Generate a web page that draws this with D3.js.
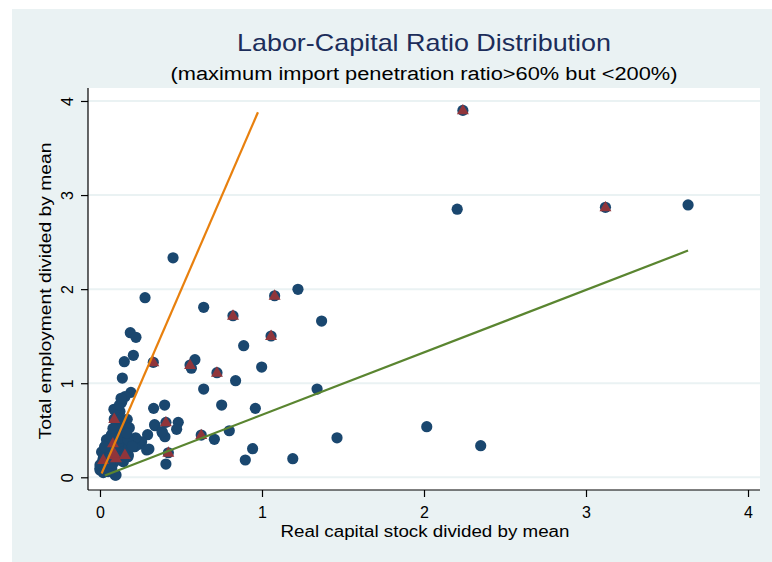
<!DOCTYPE html>
<html>
<head>
<meta charset="utf-8">
<script src="https://cdn.jsdelivr.net/npm/d3@7"></script>
<style>
  body { margin: 0; background: #ffffff; }
  #box { width: 772px; height: 562px; }
  text { font-family: "Liberation Sans", Arial, sans-serif; }
</style>
</head>
<body>
<div id="box"></div>
<script>
// all firms (navy circles)
const capital = [
  2.24, 2.205, 3.12, 3.63, 1.463, 2.017, 2.35,
  0.451, 0.278, 0.64, 0.821, 1.078, 1.222, 1.368, 0.187, 0.222, 1.056, 0.887,
  0.206, 0.15, 0.329, 0.586, 0.556, 0.564, 0.722, 0.998, 0.138, 0.837, 0.64,
  1.34, 0.191, 0.154, 0.134, 0.086, 0.123, 0.331, 0.399, 0.751, 0.959, 0.088,
  0.168, 0.181, 0.144, 0.175, 0.407, 0.34, 0.337, 0.385, 0.401, 0.383, 0.483,
  0.473, 0.294, 0.625, 0.706, 0.798, 0.897, 0.942, 1.19, 0.407, 0.422, 0.257,
  0.239, 0.288, 0.302, 0.195, 0.179, 0.193, 0.214, 0.175, 0.173, 0.15, 0.142,
  0.111, 0.121, 0.08, 0.088, 0.09, 0.099, 0.154, 0.02, 0.019, 0.099, 0.0,
  0.031, 0.041, 0.02, 0.01, 0.0, 0.062, 0.072, 0.082, 0.072, 0.093, 0.103,
  0.123, 0.144, 0.123, 0.134, 0.154, 0.04, 0.01, 0.0, 0.03, 0.05, 0.06,
  0.04, 0.02, 0.05, 0.06, 0.11, 0.12, 0.13, 0.10, 0.13, 0.22, 0.062, 0.093,
  0.029, 0.07, 0.08, 0.12, 0.13, 0.173, 0.165, 0.2
];
const employment = [
  3.90, 2.85, 2.87, 2.895, 0.42, 0.538, 0.336,
  2.333, 1.909, 1.807, 1.717, 1.93, 1.998, 1.661, 1.537, 1.488, 1.502, 1.399,
  1.297, 1.229, 1.222, 1.25, 1.193, 1.16, 1.112, 1.172, 1.055, 1.027, 0.938,
  0.938, 0.903, 0.857, 0.797, 0.723, 0.70, 0.733, 0.768, 0.768, 0.733, 0.62,
  0.616, 0.527, 0.556, 0.52, 0.584, 0.548, 0.559, 0.474, 0.431, 0.485, 0.584,
  0.51, 0.453, 0.449, 0.404, 0.495, 0.184, 0.304, 0.198, 0.141, 0.261, 0.378,
  0.35, 0.29, 0.30, 0.378, 0.41, 0.361, 0.325, 0.237, 0.219, 0.234, 0.468,
  0.485, 0.45, 0.361, 0.255, 0.237, 0.202, 0.237, 0.184, 0.166, 0.024, 0.078,
  0.325, 0.272, 0.202, 0.149, 0.096, 0.378, 0.325, 0.149, 0.096, 0.024, 0.237,
  0.184, 0.166, 0.29, 0.255, 0.308, 0.40, 0.27, 0.13, 0.22, 0.30, 0.20,
  0.12, 0.05, 0.06, 0.15, 0.33, 0.38, 0.42, 0.55, 0.62, 0.42, 0.416, 0.715,
  0.325, 0.45, 0.52, 0.77, 0.84, 0.40, 0.47, 0.33
];

// highlighted subset (maroon triangles)
const triCapital = [2.24, 3.12, 0.821, 1.078, 1.056, 0.329, 0.556, 0.722, 0.088,
  0.407, 0.625, 0.422, 0.08, 0.09, 0.099, 0.154, 0.02, 0.088];
const triEmployment = [3.90, 2.87, 1.717, 1.93, 1.502, 1.222, 1.193, 1.112, 0.62,
  0.584, 0.449, 0.261, 0.361, 0.237, 0.202, 0.237, 0.184, 0.255];

// reference lines
const orangeX = [0.01, 0.975];
const orangeY = [0.04, 3.88];
const greenX = [0.03, 3.63];
const greenY = [0.02, 2.41];

const xTicks = [0, 1, 2, 3, 4];
const yTicks = [0, 1, 2, 3, 4];

const titleText = 'Labor-Capital Ratio Distribution';
const subtitleText = '(maximum import penetration ratio>60% but <200%)';
const xLabel = 'Real capital stock divided by mean';
const yLabel = 'Total employment divided by mean';

const width = 772;
const height = 562;
const plotLeft = 88, plotRight = 760, plotTop = 88, plotBottom = 490;

const navy = '#1a476f';
const maroon = '#90353b';
const bg = '#eaf2f3';

const svg = d3.select('#box').append('svg')
  .attr('width', width)
  .attr('height', height);

svg.append('rect')
  .attr('x', 12).attr('y', 9)
  .attr('width', width - 12).attr('height', height - 9)
  .style('fill', bg);

svg.append('rect')
  .attr('x', plotLeft).attr('y', plotTop)
  .attr('width', plotRight - plotLeft).attr('height', plotBottom - plotTop)
  .style('fill', '#ffffff');

const x = d3.scaleLinear().domain([-0.074, 4.074]).range([plotLeft, plotRight]);
const y = d3.scaleLinear().domain([-0.135, 4.138]).range([plotBottom, plotTop]);

// gridlines
svg.selectAll('.grid').data(yTicks)
  .join('line')
    .attr('class', 'grid')
    .attr('x1', plotLeft).attr('x2', plotRight)
    .attr('y1', d => y(d)).attr('y2', d => y(d))
    .style('stroke', bg)
    .style('stroke-width', 2);

// points
const points = capital.map((c, i) => ({ x: c, y: employment[i] }));
const tris = triCapital.map((c, i) => ({ x: c, y: triEmployment[i] }));

svg.selectAll('.dot').data(points)
  .join('circle')
    .attr('class', 'dot')
    .attr('cx', d => x(d.x))
    .attr('cy', d => y(d.y))
    .attr('r', 5.6)
    .style('fill', navy);

const tri = d3.symbol().type(d3.symbolTriangle).size(62);
svg.selectAll('.tri').data(tris)
  .join('path')
    .attr('class', 'tri')
    .attr('d', tri)
    .attr('transform', d => `translate(${x(d.x)},${y(d.y) + 0.5})`)
    .style('fill', maroon);

// fit lines
const line = d3.line().x(d => x(d[0])).y(d => y(d[1]));
svg.append('path')
  .attr('d', line(orangeX.map((v, i) => [v, orangeY[i]])))
  .style('fill', 'none')
  .style('stroke', '#e8800e')
  .style('stroke-width', 2.2);
svg.append('path')
  .attr('d', line(greenX.map((v, i) => [v, greenY[i]])))
  .style('fill', 'none')
  .style('stroke', '#5a8530')
  .style('stroke-width', 2.2);

// axes
const xAxis = svg.append('g')
  .attr('transform', `translate(0,${plotBottom})`)
  .call(d3.axisBottom(x).tickValues(xTicks).tickFormat(d3.format('d')).tickSize(7).tickSizeOuter(0).tickPadding(10));
const yAxis = svg.append('g')
  .attr('transform', `translate(${plotLeft},0)`)
  .call(d3.axisLeft(y).tickValues(yTicks).tickFormat(d3.format('d')).tickSize(7).tickSizeOuter(0));

[xAxis, yAxis].forEach(a => {
  a.select('.domain').style('stroke', '#000').style('stroke-width', 1.2);
  a.selectAll('.tick line').style('stroke', '#000').style('stroke-width', 1.2);
  a.selectAll('text')
    .style('font-size', '16px')
    .style('fill', '#000')
    .style('font-family', '"Liberation Sans", Arial, sans-serif');
});
xAxis.select('.domain').attr('d', `M${plotLeft},0H${plotRight}`);
yAxis.select('.domain').attr('d', `M0,${plotTop}V${plotBottom}`);

// rotated y tick labels as in Stata
yAxis.selectAll('.tick text')
  .attr('x', 0).attr('dy', null)
  .attr('transform', 'translate(-15,0) rotate(-90)')
  .attr('text-anchor', 'middle');

// titles
svg.append('text')
  .attr('x', 424).attr('y', 51)
  .attr('text-anchor', 'middle')
  .attr('textLength', 374).attr('lengthAdjust', 'spacingAndGlyphs')
  .style('font-size', '24px')
  .style('fill', '#1c2d5a')
  .text(titleText);

svg.append('text')
  .attr('x', 424).attr('y', 80)
  .attr('text-anchor', 'middle')
  .attr('textLength', 507).attr('lengthAdjust', 'spacingAndGlyphs')
  .style('font-size', '18px')
  .style('fill', '#000')
  .text(subtitleText);

svg.append('text')
  .attr('x', 425).attr('y', 537)
  .attr('text-anchor', 'middle')
  .attr('textLength', 289).attr('lengthAdjust', 'spacingAndGlyphs')
  .style('font-size', '16px')
  .style('fill', '#000')
  .text(xLabel);

svg.append('text')
  .attr('transform', 'translate(51,291) rotate(-90)')
  .attr('text-anchor', 'middle')
  .attr('textLength', 297).attr('lengthAdjust', 'spacingAndGlyphs')
  .style('font-size', '16px')
  .style('fill', '#000')
  .text(yLabel);
</script>
</body>
</html>
